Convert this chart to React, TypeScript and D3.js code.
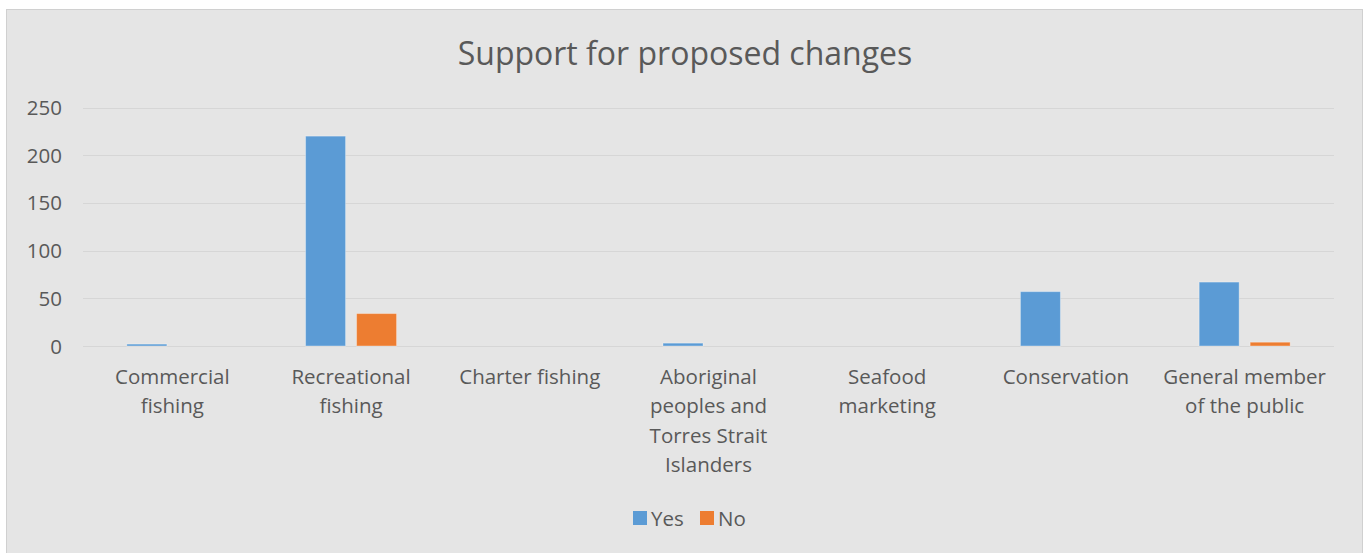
import React from "react";
import * as d3 from "d3";

const categories = [
  ["Commercial", "fishing"],
  ["Recreational", "fishing"],
  ["Charter fishing"],
  ["Aboriginal", "peoples and", "Torres Strait", "Islanders"],
  ["Seafood", "marketing"],
  ["Conservation"],
  ["General member", "of the public"],
];
const yesValues = [2, 220, 0, 3, 0, 57, 67];
const noValues = [0, 34, 0, 0, 0, 0, 4];
const yTicks = [0, 50, 100, 150, 200, 250];
const seriesNames = ["Yes", "No"];
const seriesColors = ["#5B9BD5", "#ED7D31"];

const W = 1364;
const H = 553;
const FONT = "'Open Sans', sans-serif";
const TEXT = "#595959";

export default function App() {
  const x = d3.scaleBand<number>().domain(d3.range(categories.length)).range([83, 1334]);
  const y = d3.scaleLinear().domain([0, 250]).range([346, 107.5]);
  const barW = 40;
  const gap = 11;
  const series = [yesValues, noValues];
  return (
    <svg width={W} height={H} style={{ position: "absolute", left: 0, top: 0 }}>
      <rect x={0} y={0} width={W} height={H} fill="#ffffff" />
      <rect x={6.5} y={9.5} width={1356} height={560} fill="#E5E5E5" stroke="#D0D0D0" strokeWidth={1} />
      <text x={685} y={65} textAnchor="middle" fontFamily={FONT} fontSize={32} fill={TEXT}>
        Support for proposed changes
      </text>
      {yTicks.map((t) => (
        <g key={t}>
          <line x1={83} x2={1334} y1={Math.round(y(t)) + 0.5} y2={Math.round(y(t)) + 0.5} stroke="#D6D6D6" strokeWidth={1} />
          <text x={62} y={y(t) + 7.5} textAnchor="end" fontFamily={FONT} fontSize={20.5} fill={TEXT}>
            {t}
          </text>
        </g>
      ))}
      {series.map((vals, si) =>
        vals.map((v, i) => {
          const c = x(i)! + x.bandwidth() / 2;
          const bx = si === 0 ? c - gap / 2 - barW : c + gap / 2;
          return v > 0 ? (
            <rect key={si + "-" + i} x={bx} y={y(v)} width={barW} height={y(0) - y(v)} fill={seriesColors[si]} stroke="rgba(255,255,255,0.35)" strokeWidth={1} />
          ) : null;
        })
      )}
      {categories.map((lines, i) => (
        <text key={i} textAnchor="middle" fontFamily={FONT} fontSize={20.5} fill={TEXT}>
          {lines.map((l, j) => (
            <tspan key={j} x={x(i)! + x.bandwidth() / 2} y={384 + j * 29.3}>
              {l}
            </tspan>
          ))}
        </text>
      ))}
      <g>
        <rect x={633} y={511} width={14} height={14} fill={seriesColors[0]} />
        <text x={651} y={526} fontFamily={FONT} fontSize={20.5} fill={TEXT}>{seriesNames[0]}
        </text>
        <rect x={700} y={511} width={14} height={14} fill={seriesColors[1]} />
        <text x={718} y={526} fontFamily={FONT} fontSize={20.5} fill={TEXT}>{seriesNames[1]}</text>
      </g>
    </svg>
  );
}
